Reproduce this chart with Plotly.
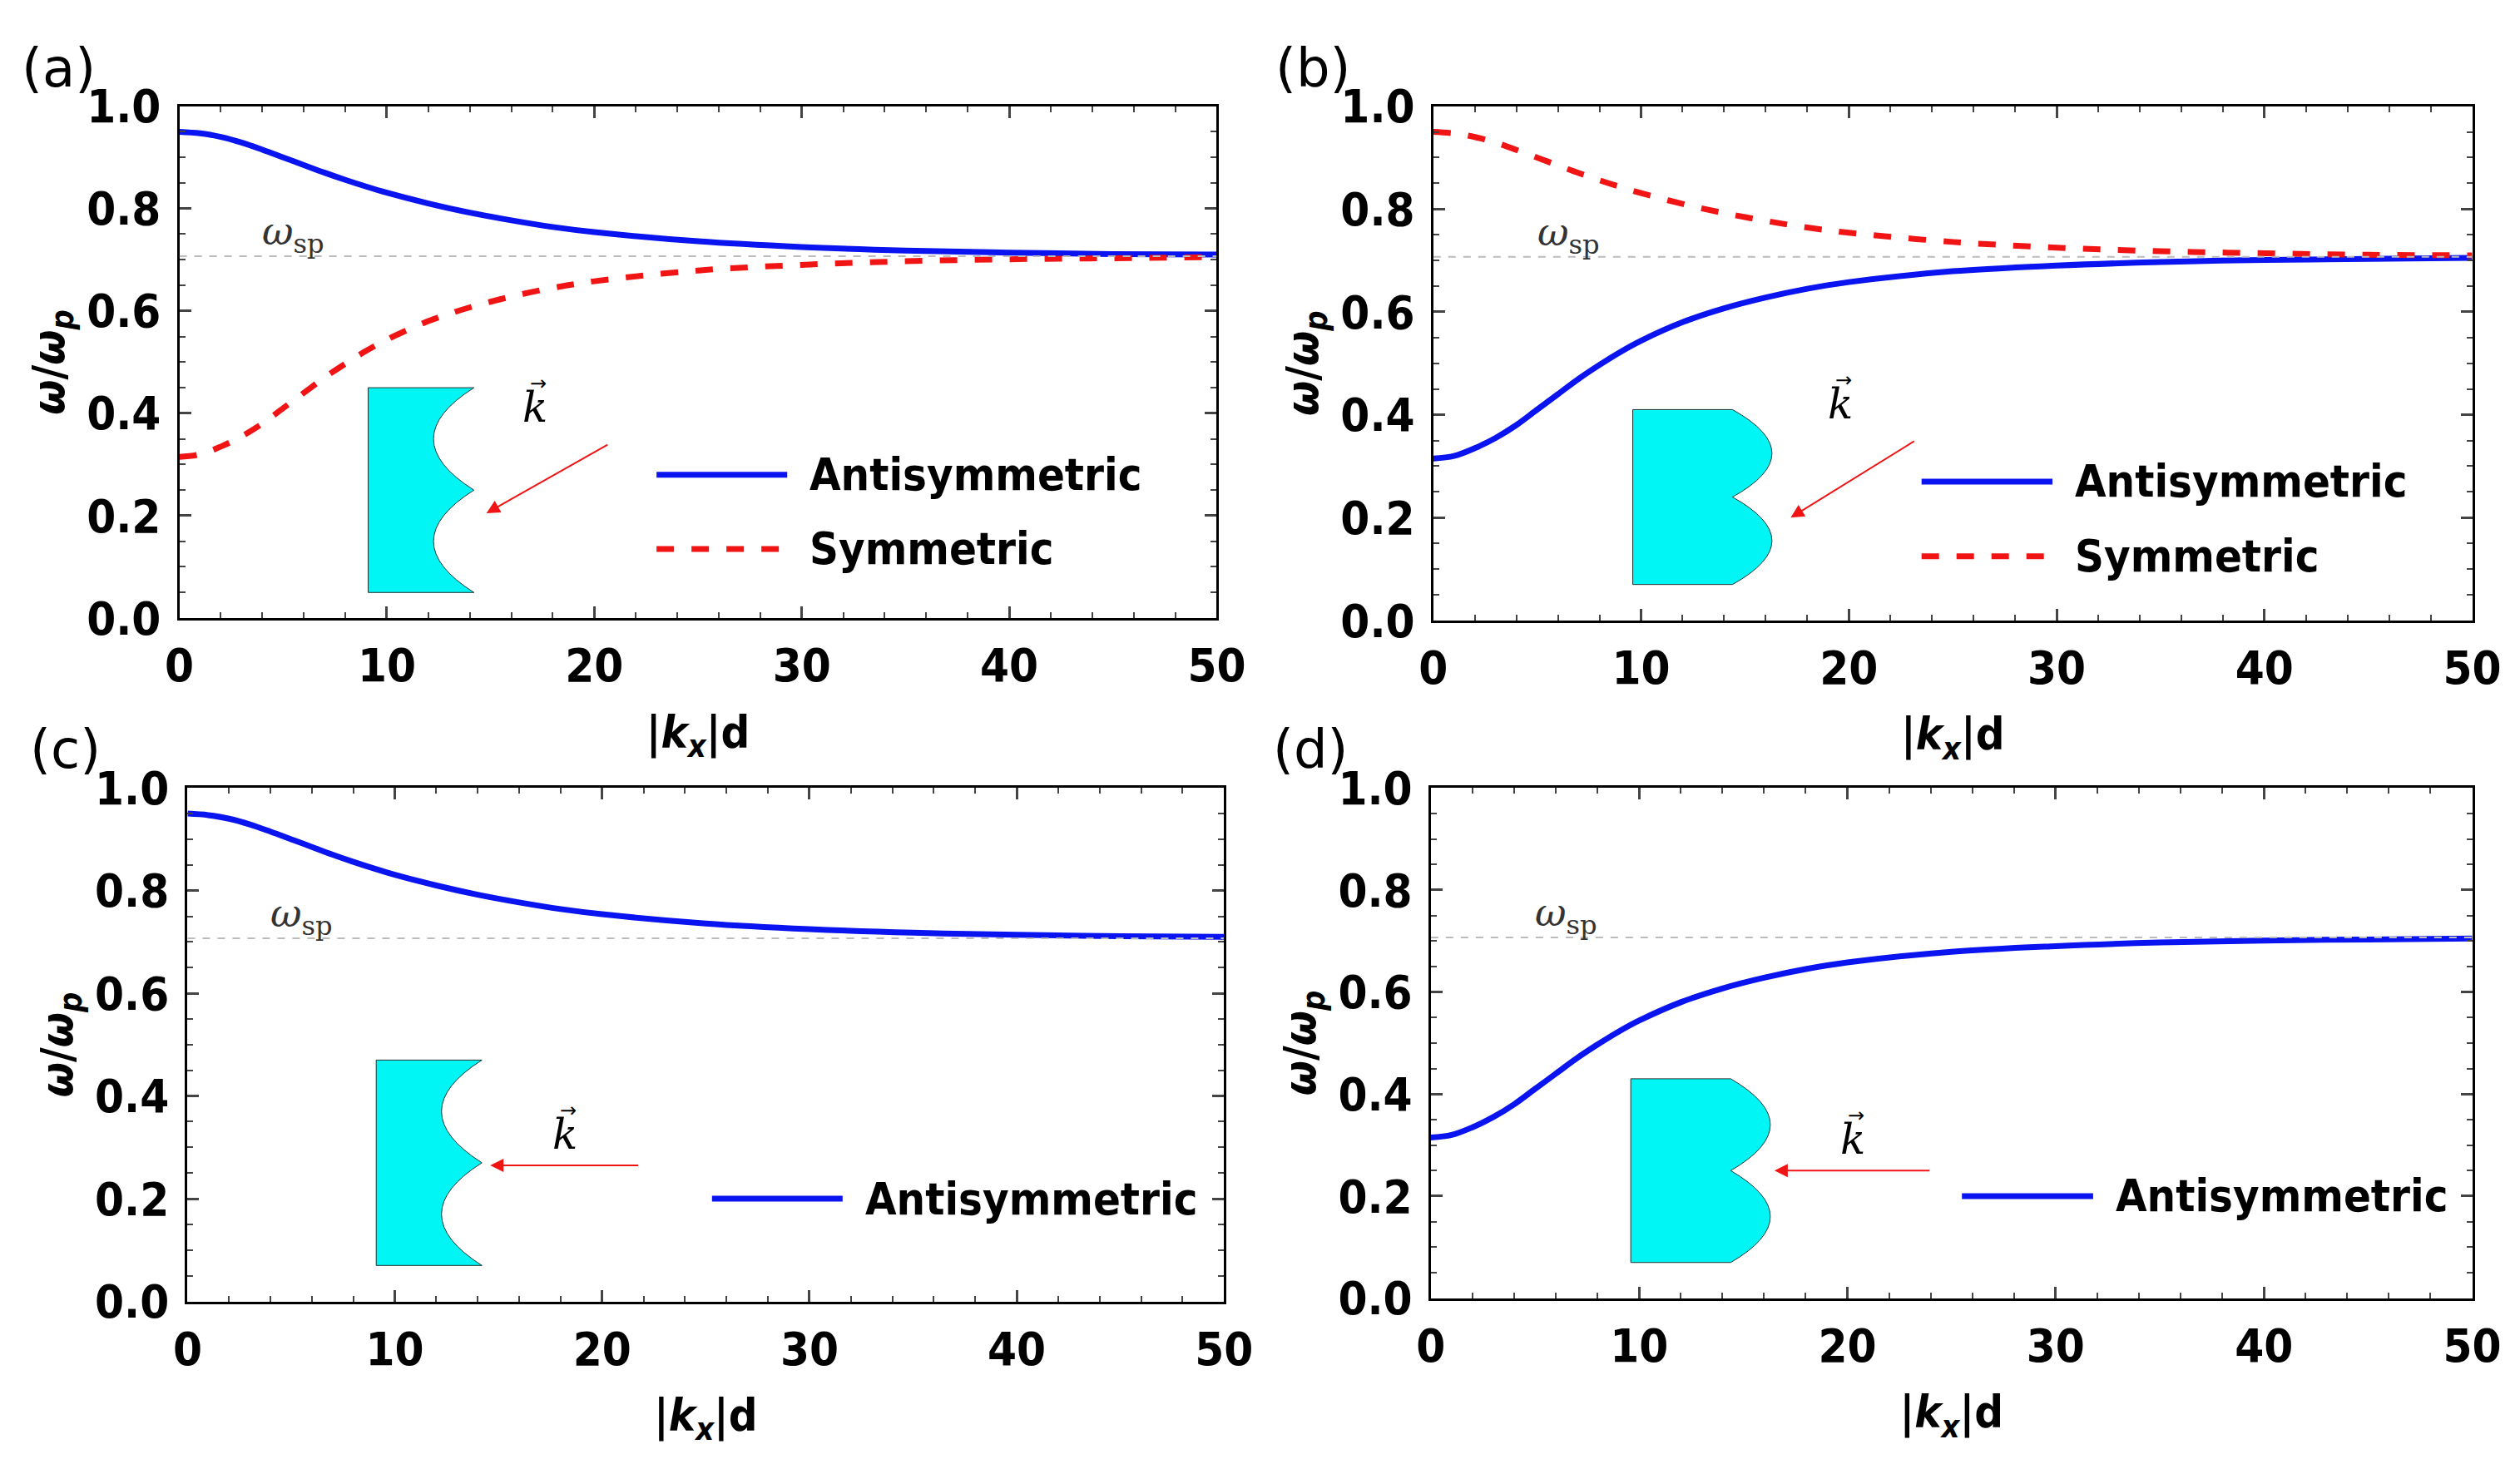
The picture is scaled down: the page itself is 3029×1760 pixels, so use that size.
import plotly.graph_objects as go

# data
k = [0, 1, 2, 3, 4, 5, 6, 7, 8, 9, 10, 12, 14, 16, 18, 20, 25, 30, 35, 40, 45, 50]
upper = [0.95, 0.947, 0.94, 0.929, 0.915, 0.9, 0.885, 0.87, 0.856, 0.843, 0.831,
         0.81, 0.792, 0.777, 0.764, 0.754, 0.736, 0.725, 0.718, 0.714, 0.711, 0.71]
lower = [0.315, 0.32, 0.335, 0.355, 0.38, 0.41, 0.44, 0.47, 0.497, 0.522, 0.544,
         0.58, 0.607, 0.628, 0.645, 0.658, 0.679, 0.69, 0.697, 0.701, 0.703, 0.705]
w_sp = 0.707
panel_labels = ["(a)", "(b)", "(c)", "(d)"]

BLUE = "#0a14f0"
RED = "#f01414"
NARROW = "Liberation Sans Narrow, DejaVu Sans Condensed, Arial Narrow"

W, H = 3029, 1760
boxes = [(193, 1462, 91, 730), (1727, 2998, 91, 733),
         (203, 1471, 942, 1583), (1724, 2998, 942, 1579)]

fig = go.Figure()
cfg = [(upper, lower, True), (lower, upper, True), (upper, None, False), (lower, None, False)]

for i, (x0, x1, y0, y1) in enumerate(boxes):
    n = "" if i == 0 else str(i + 1)
    fig.update_layout(**{
        f"xaxis{n}": dict(domain=[x0 / W, x1 / W], anchor=f"y{n}", range=[0, 50]),
        f"yaxis{n}": dict(domain=[1 - y1 / H, 1 - y0 / H], anchor=f"x{n}", range=[0, 1]),
    })
    xr, yr = f"x{n}", f"y{n}"
    anti, sym, show_sym = cfg[i]
    fig.add_shape(type="line", xref=xr, yref=yr, x0=0, x1=50, y0=w_sp, y1=w_sp,
                  line=dict(color="#bbbbbb", width=2, dash="dash"))
    fig.add_trace(go.Scatter(x=k, y=anti, mode="lines", line=dict(color=BLUE, width=7, shape="spline"),
                             xaxis=xr, yaxis=yr, showlegend=False))
    if show_sym:
        fig.add_trace(go.Scatter(x=k, y=sym, mode="lines",
                                 line=dict(color=RED, width=7, dash="dash", shape="spline"),
                                 xaxis=xr, yaxis=yr, showlegend=False))
    fig.add_annotation(x=5.5 if i % 2 == 0 else 6.5, y=w_sp, xref=xr, yref=yr, yanchor="bottom",
                       text="<i>ω</i><sub>sp</sub>", showarrow=False, yshift=-6,
                       font=dict(size=46, family="DejaVu Serif", color="#333"))

    concave = i % 2 == 0
    if concave:
        ytop, ybot = (0.45, 0.05) if i == 0 else (0.47, 0.07)
        xl, xc, xin = 9.1, 14.2, 11.6
        ym = (ytop + ybot) / 2
        q1, q3 = (ytop + ym) / 2, (ym + ybot) / 2
        path = (f"M {xl},{ytop} L {xc},{ytop} Q {xin - 1.3},{q1} {xc},{ym} "
                f"Q {xin - 1.3},{q3} {xc},{ybot} L {xl},{ybot} Z")
    else:
        ytop, ybot = (0.41, 0.07) if i == 1 else (0.43, 0.07)
        xl, xc, xout = 9.6, 14.4, 16.3
        ym = (ytop + ybot) / 2
        q1, q3 = (ytop + ym) / 2, (ym + ybot) / 2
        path = (f"M {xl},{ytop} L {xc},{ytop} Q {xout + 1.9},{q1} {xc},{ym} "
                f"Q {xout + 1.9},{q3} {xc},{ybot} L {xl},{ybot} Z")
    fig.add_shape(type="path", path=path, xref=xr, yref=yr, fillcolor="#00f5f5",
                  line=dict(color="#203030", width=1))

    if i == 0:
        ax, ay, hx, hy = 20.7, 0.34, 14.8, 0.205
    elif i == 1:
        ax, ay, hx, hy = 23.2, 0.35, 17.2, 0.2
    elif i == 2:
        ax, ay, hx, hy = 21.8, 0.265, 14.6, 0.265
    else:
        ax, ay, hx, hy = 24.0, 0.25, 16.5, 0.25
    fig.add_annotation(x=hx, y=hy, ax=ax, ay=ay, xref=xr, yref=yr, axref=xr, ayref=yr,
                       text="", showarrow=True, arrowhead=2, arrowsize=1.6,
                       arrowwidth=2, arrowcolor=RED)
    kx = (hx + ax) / 2 - (0.6 if i < 2 else 0)
    ky = max(ay, hy) + (0.02 if i < 2 else 0.01)
    fig.add_annotation(x=kx, y=ky, xref=xr, yref=yr, text="<i>k</i>", showarrow=False,
                       yanchor="bottom", font=dict(size=50, family="DejaVu Serif"))
    fig.add_annotation(x=kx, y=ky, xref=xr, yref=yr, text="→", showarrow=False, xshift=4,
                       yanchor="bottom", yshift=44, font=dict(size=24, family="DejaVu Sans"))

    lx0 = {0: 23.0, 1: 23.5, 2: 25.3, 3: 25.5}[i]
    ly1 = {0: 0.28, 1: 0.27, 2: 0.2, 3: 0.2}[i]
    fig.add_shape(type="line", xref=xr, yref=yr, x0=lx0, x1=lx0 + 6.3, y0=ly1, y1=ly1,
                  line=dict(color=BLUE, width=7))
    fig.add_annotation(x=lx0 + 7.3, y=ly1, xref=xr, yref=yr, text="<b>Antisymmetric</b>",
                       showarrow=False, xanchor="left", font=dict(size=54, family=NARROW))
    if show_sym:
        ly2 = ly1 - 0.145
        fig.add_shape(type="line", xref=xr, yref=yr, x0=lx0, x1=lx0 + 6.3, y0=ly2, y1=ly2,
                      line=dict(color=RED, width=7, dash="dash"))
        fig.add_annotation(x=lx0 + 7.3, y=ly2, xref=xr, yref=yr, text="<b>Symmetric</b>",
                           showarrow=False, xanchor="left", font=dict(size=54, family=NARROW))

    fig.add_annotation(x=(x0 - 195) / W, y=1 - (y0 - 88) / H, xref="paper", yref="paper",
                       text=panel_labels[i], showarrow=False, xanchor="left", yanchor="top",
                       font=dict(size=64, family="DejaVu Sans"))

fig.update_xaxes(showgrid=False, zeroline=False, showline=True, linewidth=3, linecolor="black",
                 mirror="allticks", ticks="inside", ticklen=14, tickwidth=3, dtick=10,
                 minor=dict(ticks="inside", ticklen=7, tickwidth=2, dtick=2),
                 ticklabelstandoff=6,
                 tickfont=dict(size=56, family=NARROW, weight="bold"),
                 title=dict(text="<b>|<i>k</i><sub><i>x</i></sub>|d</b>", font=dict(size=54, family=NARROW), standoff=30))
fig.update_yaxes(showgrid=False, zeroline=False, showline=True, linewidth=3, linecolor="black",
                 mirror="allticks", ticks="inside", ticklen=14, tickwidth=3, dtick=0.2, tickformat=".1f",
                 minor=dict(ticks="inside", ticklen=7, tickwidth=2, dtick=0.05),
                 ticklabelstandoff=8,
                 tickfont=dict(size=56, family=NARROW, weight="bold"),
                 title=dict(text="<b><i>ω</i>/<i>ω</i><sub><i>p</i></sub></b>", font=dict(size=54, family=NARROW), standoff=10))

fig.update_layout(width=W, height=H, margin=dict(l=0, r=0, t=0, b=0),
                  font=dict(color="black"),
                  plot_bgcolor="white", paper_bgcolor="white", showlegend=False)
fig.write_html("out.html")
